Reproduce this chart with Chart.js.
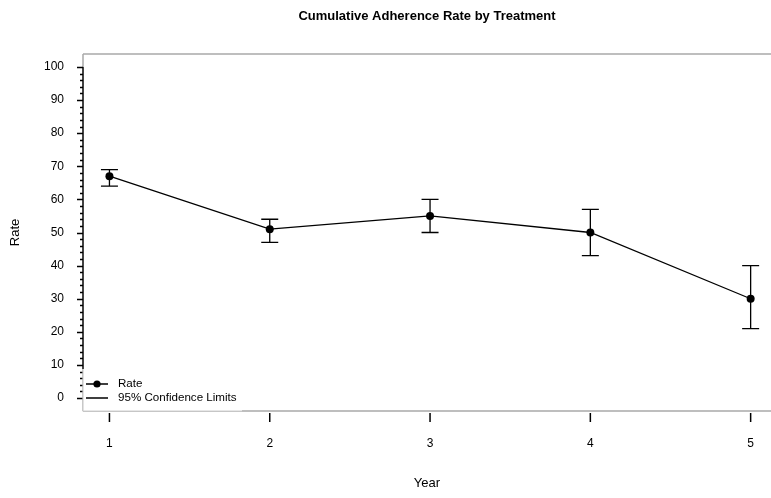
<!DOCTYPE html>
<html><head><meta charset="utf-8">
<script src="https://cdn.jsdelivr.net/npm/chart.js@4.4.1/dist/chart.umd.min.js"></script>
<style>html,body{margin:0;padding:0;background:#fff}#wrap{width:771px;height:498px}</style>
</head><body><div id="wrap"><canvas id="c" width="771" height="498"></canvas></div>
<script>
const years = [1, 2, 3, 4, 5];
const rate = [67, 51, 55, 50, 30];
const lowerCL = [64, 47, 50, 43, 21];
const upperCL = [69, 54, 60, 57, 40];
const yTickLabels = [0, 10, 20, 30, 40, 50, 60, 70, 80, 90, 100];
const yMinorStep = 2;
const titleText = 'Cumulative Adherence Rate by Treatment';
const xTitle = 'Year';
const yTitle = 'Rate';
const legendLabels = ['Rate', '95% Confidence Limits'];

const FONT = '"Liberation Sans", Arial, sans-serif';
Chart.defaults.font.family = FONT;
Chart.defaults.color = '#000';

const LEGEND_TOP = 369, LEGEND_RIGHT = 242;

const decor = {
  id: 'decor',
  beforeDatasetsDraw(chart) {
    const ctx = chart.ctx, a = chart.chartArea;
    const xs = chart.scales.x, ys = chart.scales.y;
    ctx.save();
    // frame
    ctx.strokeStyle = '#a9a9a9';
    ctx.lineWidth = 1.5;
    ctx.beginPath();
    ctx.moveTo(a.left, a.top); ctx.lineTo(a.right, a.top);
    ctx.moveTo(a.left, a.bottom); ctx.lineTo(a.right, a.bottom);
    ctx.moveTo(a.left, a.top); ctx.lineTo(a.left, a.bottom);
    ctx.stroke();
    // y axis line
    ctx.strokeStyle = '#000';
    ctx.lineWidth = 1.3;
    ctx.beginPath();
    ctx.moveTo(a.left, ys.getPixelForValue(yTickLabels[yTickLabels.length - 1]));
    ctx.lineTo(a.left, LEGEND_TOP);
    ctx.stroke();
    // y ticks
    const lo = yTickLabels[0], hi = yTickLabels[yTickLabels.length - 1];
    ctx.beginPath();
    for (let v = lo; v <= hi; v += yMinorStep) {
      const y = Math.round(ys.getPixelForValue(v)) + 0.5;
      const len = (v % 10 === 0) ? 6 : 3;
      ctx.moveTo(a.left - len, y); ctx.lineTo(a.left, y);
    }
    ctx.stroke();
    // x ticks
    ctx.lineWidth = 1.5;
    ctx.beginPath();
    years.forEach(v => {
      const x = xs.getPixelForValue(v);
      ctx.moveTo(x, a.bottom + 2); ctx.lineTo(x, a.bottom + 11);
    });
    ctx.stroke();
    // error bars
    ctx.lineWidth = 1.3;
    ctx.beginPath();
    years.forEach((v, i) => {
      const x = xs.getPixelForValue(v);
      const yl = ys.getPixelForValue(lowerCL[i]);
      const yu = ys.getPixelForValue(upperCL[i]);
      ctx.moveTo(x, yl); ctx.lineTo(x, yu);
      ctx.moveTo(x - 8.5, yl); ctx.lineTo(x + 8.5, yl);
      ctx.moveTo(x - 8.5, yu); ctx.lineTo(x + 8.5, yu);
    });
    ctx.stroke();
    ctx.restore();
  },
  afterDatasetsDraw(chart) {
    const ctx = chart.ctx, a = chart.chartArea;
    ctx.save();
    // legend box
    ctx.fillStyle = '#fff';
    ctx.fillRect(a.left, LEGEND_TOP, LEGEND_RIGHT - a.left, a.bottom - LEGEND_TOP);
    ctx.strokeStyle = '#cfcfcf';
    ctx.lineWidth = 1.2;
    ctx.beginPath();
    ctx.moveTo(a.left, LEGEND_TOP); ctx.lineTo(a.left, a.bottom);
    ctx.lineTo(LEGEND_RIGHT, a.bottom);
    ctx.stroke();
    const rows = [384, 398];
    ctx.strokeStyle = '#000';
    ctx.lineWidth = 1.3;
    ctx.beginPath();
    rows.forEach(y => { ctx.moveTo(86, y); ctx.lineTo(108, y); });
    ctx.stroke();
    ctx.fillStyle = '#000';
    ctx.beginPath(); ctx.arc(97, rows[0], 3.6, 0, Math.PI * 2); ctx.fill();
    ctx.font = '11.6px ' + FONT;
    ctx.textBaseline = 'middle';
    ctx.textAlign = 'left';
    legendLabels.forEach((t, i) => ctx.fillText(t, 118, rows[i]));
    // title
    ctx.font = 'bold 13px ' + FONT;
    ctx.textAlign = 'center';
    ctx.fillText(titleText, (a.left + a.right) / 2, 16);
    ctx.restore();
  }
};

new Chart(document.getElementById('c'), {
  type: 'line',
  data: {
    datasets: [{
      label: legendLabels[0],
      data: years.map((x, i) => ({ x: x, y: rate[i] })),
      borderColor: '#000',
      borderWidth: 1.3,
      pointRadius: 4,
      pointBackgroundColor: '#000',
      pointBorderWidth: 0,
      tension: 0
    }]
  },
  options: {
    responsive: false,
    animation: false,
    devicePixelRatio: 1,
    layout: { autoPadding: false, padding: { top: 54, right: 0, left: 0, bottom: 0 } },
    plugins: { legend: { display: false }, title: { display: false }, tooltip: { enabled: false } },
    scales: {
      x: {
        type: 'linear',
        min: 0.835, max: 5.127,
        afterBuildTicks: s => { s.ticks = years.map(v => ({ value: v })); },
        afterFit: s => { s.height = 87; s.paddingLeft = 0; s.paddingRight = 0; },
        grid: { display: false, drawTicks: false },
        border: { display: false },
        ticks: { font: { size: 12 }, color: '#000', padding: 25, maxRotation: 0, autoSkip: false, callback: v => String(v) },
        title: { display: true, text: xTitle, font: { size: 13 }, color: '#000', padding: { top: 0, bottom: 7 } }
      },
      y: {
        type: 'linear',
        min: -3.9, max: 103.9,
        afterBuildTicks: s => { s.ticks = yTickLabels.map(v => ({ value: v })); },
        afterFit: s => { s.width = 83; s.paddingTop = 0; s.paddingBottom = 0; },
        grid: { display: false, drawTicks: false },
        border: { display: false },
        ticks: { font: { size: 12 }, color: '#000', padding: 19, callback: v => String(v) },
        title: { display: true, text: yTitle, font: { size: 13 }, color: '#000', padding: { top: 8, bottom: 0 } }
      }
    }
  },
  plugins: [decor]
});
</script>
</body></html>
